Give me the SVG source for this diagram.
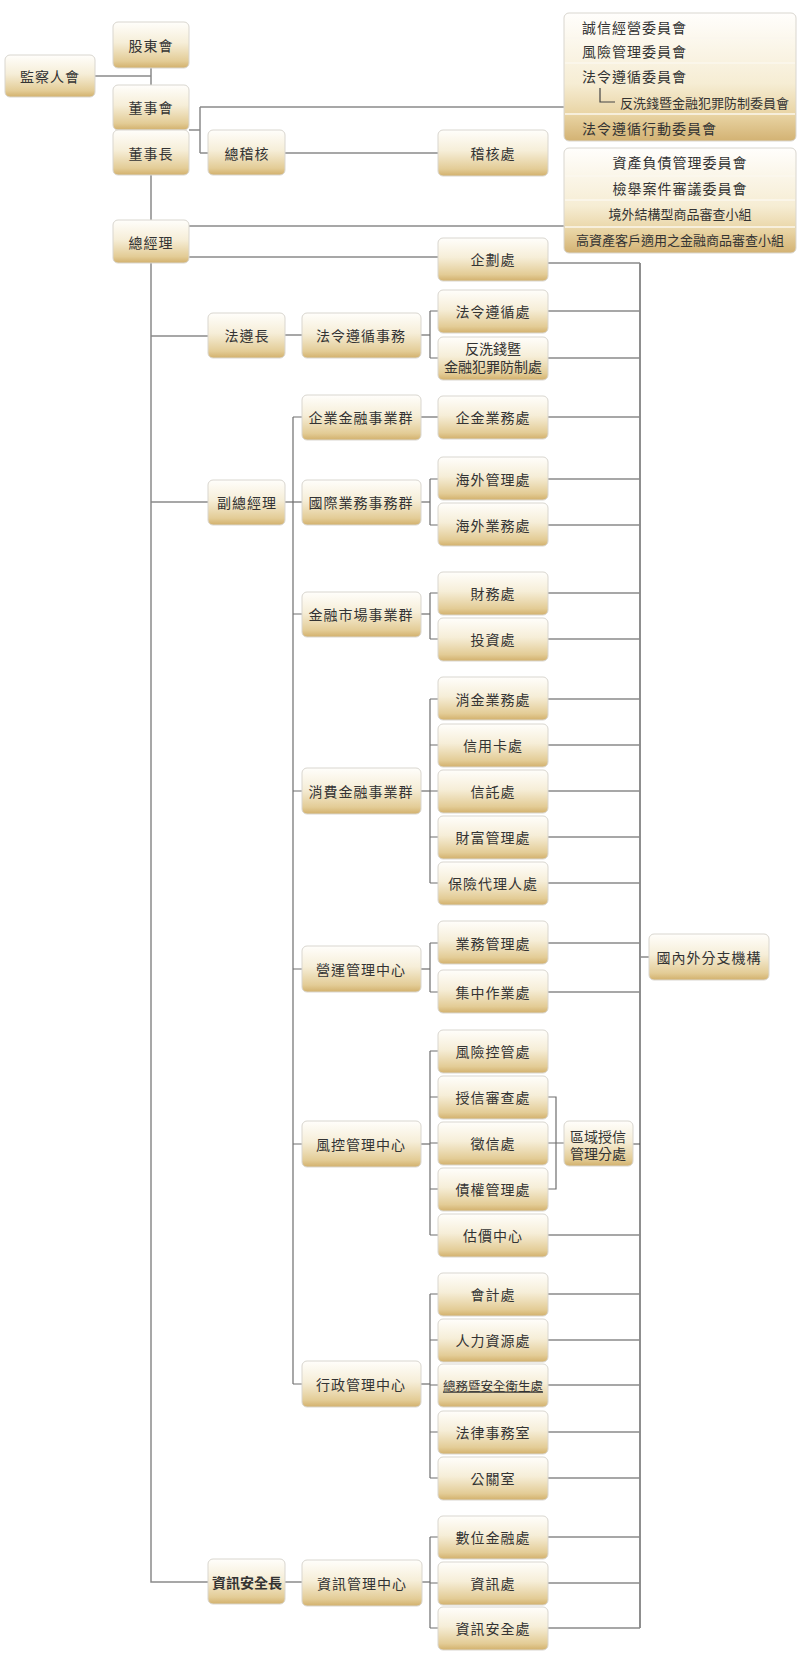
<svg xmlns="http://www.w3.org/2000/svg" width="800" height="1677" viewBox="0 0 800 1677">
<defs>
<linearGradient id="g" x1="0" y1="0" x2="0" y2="1">
<stop offset="0" stop-color="#fffefb"/>
<stop offset="0.45" stop-color="#f6eed8"/>
<stop offset="0.85" stop-color="#e3cc96"/>
<stop offset="1" stop-color="#d2b06c"/>
</linearGradient>
<linearGradient id="gc" x1="0" y1="0" x2="0" y2="1">
<stop offset="0" stop-color="#fffefc"/>
<stop offset="0.55" stop-color="#f6edd4"/>
<stop offset="0.8" stop-color="#e8d3a2"/>
<stop offset="1" stop-color="#d3b273"/>
</linearGradient>
</defs>
<style>
.box{fill:url(#g);stroke:#d9d6cf;stroke-width:1}
.cbox{fill:url(#gc);stroke:#d9d6cf;stroke-width:1}
.t{font-family:"Noto Sans CJK TC","Noto Sans CJK SC",sans-serif;font-size:14px;fill:#333;text-anchor:middle;dominant-baseline:central;letter-spacing:1px}
.ts{font-family:"Noto Sans CJK TC","Noto Sans CJK SC",sans-serif;font-size:13px;fill:#333;dominant-baseline:central}
.tl{font-family:"Noto Sans CJK TC","Noto Sans CJK SC",sans-serif;font-size:14px;fill:#333;dominant-baseline:central;letter-spacing:1px}
.c{fill:none;stroke:#8a8a8a;stroke-width:1.5}
.b{fill:none;stroke:#6e6e6e;stroke-width:1.2}
.bus{fill:none;stroke:#444;stroke-width:1.2}
.div{stroke:#fbf7ee;stroke-width:1.5}
</style>

<g id="connectors">
<path class="c" d="M151 68V85M95 76H151M151 175V220M151 263V1582H208M151 336H208M151 502H208"/>
<path class="c" d="M189 130H200M200 107V153M200 107H564M200 153H208M285 153H438M189 226H564M189 257H438"/>
<path class="c" d="M285 335H302M421 335H430M285 502H302M285 1582H302M422 1582H430"/>
<path class="b" d="M430 311V358M430 311H438M430 358H438"/>
<path class="b" d="M293 417V1384M293 417H302M293 614H302M293 791H302M293 969H302M293 1144H302M293 1384H302"/>
<path class="c" d="M421 417H438M421 502H430M421 614H430M421 791H430M421 969H430M421 1144H430M421 1384H430"/>
<path class="b" d="M430 479V525M430 479H438M430 525H438"/>
<path class="b" d="M430 593V639M430 593H438M430 639H438"/>
<path class="b" d="M430 699V883M430 699H438M430 745H438M430 791H438M430 837H438M430 883H438"/>
<path class="b" d="M430 943V992M430 943H438M430 992H438"/>
<path class="b" d="M430 1051V1235M430 1051H438M430 1097H438M430 1143H438M430 1189H438M430 1235H438"/>
<path class="b" d="M430 1294V1478M430 1294H438M430 1340H438M430 1385H438M430 1432H438M430 1478H438"/>
<path class="b" d="M430 1537V1628M430 1537H438M430 1583H438M430 1628H438"/>
<path class="b" d="M548 1097H556V1189H548M548 1143H564"/>
<path class="c" d="M633 1144H640"/>
<path class="bus" d="M640 263V1628"/>
<path class="c" d="M548 263H640M548 311H640M548 358H640M548 417H640M548 479H640M548 525H640M548 593H640M548 639H640M548 699H640M548 745H640M548 791H640M548 837H640M548 883H640M548 943H640M548 992H640M548 1235H640M548 1294H640M548 1340H640M548 1385H640M548 1432H640M548 1478H640M548 1537H640M548 1583H640M548 1628H640"/>
<path class="c" d="M640 957H649"/>
</g>

<g id="n-shareholders"><rect class="box" x="113" y="22" width="76" height="46" rx="5"/><text class="t" x="151" y="45">股東會</text></g>
<g id="n-supervisors"><rect class="box" x="5" y="55" width="90" height="42" rx="5"/><text class="t" x="50" y="76">監察人會</text></g>
<g id="n-board"><rect class="box" x="113" y="85" width="76" height="45" rx="5"/><text class="t" x="151" y="107">董事會</text></g>
<g id="n-chairman"><rect class="box" x="113" y="130" width="76" height="45" rx="5"/><text class="t" x="151" y="153">董事長</text></g>
<g id="n-chief-auditor"><rect class="box" x="208" y="130" width="77" height="45" rx="5"/><text class="t" x="247" y="153">總稽核</text></g>
<g id="n-audit"><rect class="box" x="438" y="130" width="110" height="46" rx="5"/><text class="t" x="493" y="153">稽核處</text></g>
<g id="n-president"><rect class="box" x="113" y="220" width="76" height="43" rx="5"/><text class="t" x="151" y="242">總經理</text></g>

<g id="n-committees-1">
<rect class="cbox" x="564" y="13" width="232" height="128" rx="5"/>
<line class="div" x1="565" y1="38" x2="795" y2="38"/>
<line class="div" x1="565" y1="63" x2="795" y2="63"/>
<line class="div" x1="565" y1="114" x2="795" y2="114"/>
<text class="tl" x="582" y="27">誠信經營委員會</text>
<text class="tl" x="582" y="51">風險管理委員會</text>
<text class="tl" x="582" y="76">法令遵循委員會</text>
<path d="M600 88V102H615" fill="none" stroke="#444" stroke-width="1.2"/>
<text class="ts" x="620" y="102">反洗錢暨金融犯罪防制委員會</text>
<text class="tl" x="582" y="128">法令遵循行動委員會</text>
</g>

<g id="n-committees-2">
<rect class="cbox" x="564" y="148" width="232" height="105" rx="5"/>
<line class="div" x1="565" y1="176" x2="795" y2="176"/>
<line class="div" x1="565" y1="200" x2="795" y2="200"/>
<line class="div" x1="565" y1="227" x2="795" y2="227"/>
<text class="t" x="680" y="162">資產負債管理委員會</text>
<text class="t" x="680" y="188">檢舉案件審議委員會</text>
<text class="ts" x="680" y="213" text-anchor="middle">境外結構型商品審查小組</text>
<text class="ts" x="680" y="239" text-anchor="middle">高資產客戶適用之金融商品審查小組</text>
</g>

<g id="n-planning"><rect class="box" x="438" y="238" width="110" height="43" rx="5"/><text class="t" x="493" y="259">企劃處</text></g>

<g id="n-cco"><rect class="box" x="208" y="313" width="77" height="45" rx="5"/><text class="t" x="247" y="335">法遵長</text></g>
<g id="n-compliance-affairs"><rect class="box" x="302" y="313" width="119" height="45" rx="5"/><text class="t" x="361" y="335">法令遵循事務</text></g>
<g id="n-compliance"><rect class="box" x="438" y="290" width="110" height="43" rx="5"/><text class="t" x="493" y="311">法令遵循處</text></g>
<g id="n-aml"><rect class="box" x="438" y="337" width="110" height="43" rx="5"/><text class="t" x="493" y="348" style="letter-spacing:0">反洗錢暨</text><text class="t" x="493" y="366" style="letter-spacing:0">金融犯罪防制處</text></g>

<g id="n-evp"><rect class="box" x="208" y="480" width="77" height="45" rx="5"/><text class="t" x="247" y="502">副總經理</text></g>
<g id="n-corporate-group"><rect class="box" x="302" y="395" width="119" height="45" rx="5"/><text class="t" x="361" y="417">企業金融事業群</text></g>
<g id="n-intl-group"><rect class="box" x="302" y="480" width="119" height="45" rx="5"/><text class="t" x="361" y="502">國際業務事務群</text></g>
<g id="n-market-group"><rect class="box" x="302" y="592" width="119" height="45" rx="5"/><text class="t" x="361" y="614">金融市場事業群</text></g>
<g id="n-consumer-group"><rect class="box" x="302" y="768" width="119" height="46" rx="5"/><text class="t" x="361" y="791">消費金融事業群</text></g>
<g id="n-ops-center"><rect class="box" x="302" y="946" width="119" height="46" rx="5"/><text class="t" x="361" y="969">營運管理中心</text></g>
<g id="n-risk-center"><rect class="box" x="302" y="1121" width="119" height="46" rx="5"/><text class="t" x="361" y="1144">風控管理中心</text></g>
<g id="n-admin-center"><rect class="box" x="302" y="1361" width="119" height="46" rx="5"/><text class="t" x="361" y="1384">行政管理中心</text></g>
<g id="n-ciso"><rect class="box" x="208" y="1559" width="77" height="45" rx="5"/><text class="t" x="247" y="1582" style="font-weight:bold;letter-spacing:0">資訊安全長</text></g>
<g id="n-it-center"><rect class="box" x="302" y="1560" width="120" height="46" rx="5"/><text class="t" x="362" y="1583">資訊管理中心</text></g>

<g id="n-corp-biz"><rect class="box" x="438" y="396" width="110" height="43" rx="5"/><text class="t" x="493" y="417">企金業務處</text></g>
<g id="n-overseas-mgmt"><rect class="box" x="438" y="457" width="110" height="43" rx="5"/><text class="t" x="493" y="479">海外管理處</text></g>
<g id="n-overseas-biz"><rect class="box" x="438" y="503" width="110" height="43" rx="5"/><text class="t" x="493" y="525">海外業務處</text></g>
<g id="n-finance"><rect class="box" x="438" y="572" width="110" height="43" rx="5"/><text class="t" x="493" y="593">財務處</text></g>
<g id="n-invest"><rect class="box" x="438" y="618" width="110" height="43" rx="5"/><text class="t" x="493" y="639">投資處</text></g>
<g id="n-consumer-biz"><rect class="box" x="438" y="677" width="110" height="43" rx="5"/><text class="t" x="493" y="699">消金業務處</text></g>
<g id="n-card"><rect class="box" x="438" y="724" width="110" height="43" rx="5"/><text class="t" x="493" y="745">信用卡處</text></g>
<g id="n-trust"><rect class="box" x="438" y="770" width="110" height="43" rx="5"/><text class="t" x="493" y="791">信託處</text></g>
<g id="n-wealth"><rect class="box" x="438" y="816" width="110" height="43" rx="5"/><text class="t" x="493" y="837">財富管理處</text></g>
<g id="n-insurance"><rect class="box" x="438" y="862" width="110" height="43" rx="5"/><text class="t" x="493" y="883">保險代理人處</text></g>
<g id="n-biz-mgmt"><rect class="box" x="438" y="921" width="110" height="43" rx="5"/><text class="t" x="493" y="943">業務管理處</text></g>
<g id="n-central-ops"><rect class="box" x="438" y="970" width="110" height="43" rx="5"/><text class="t" x="493" y="992">集中作業處</text></g>
<g id="n-risk-ctrl"><rect class="box" x="438" y="1030" width="110" height="43" rx="5"/><text class="t" x="493" y="1051">風險控管處</text></g>
<g id="n-credit-review"><rect class="box" x="438" y="1076" width="110" height="43" rx="5"/><text class="t" x="493" y="1097">授信審查處</text></g>
<g id="n-credit-info"><rect class="box" x="438" y="1122" width="110" height="43" rx="5"/><text class="t" x="493" y="1143">徵信處</text></g>
<g id="n-claims"><rect class="box" x="438" y="1168" width="110" height="43" rx="5"/><text class="t" x="493" y="1189">債權管理處</text></g>
<g id="n-appraisal"><rect class="box" x="438" y="1214" width="110" height="43" rx="5"/><text class="t" x="493" y="1235">估價中心</text></g>
<g id="n-regional-credit"><rect class="box" x="564" y="1121" width="69" height="45" rx="5"/><text class="t" x="598" y="1136" style="letter-spacing:0">區域授信</text><text class="t" x="598" y="1153" style="letter-spacing:0">管理分處</text></g>
<g id="n-accounting"><rect class="box" x="438" y="1273" width="110" height="43" rx="5"/><text class="t" x="493" y="1294">會計處</text></g>
<g id="n-hr"><rect class="box" x="438" y="1319" width="110" height="43" rx="5"/><text class="t" x="493" y="1340">人力資源處</text></g>
<g id="n-general-affairs"><rect class="box" x="438" y="1364" width="110" height="43" rx="5"/><text class="t" x="493" y="1385" style="font-size:12.5px;letter-spacing:0;text-decoration:underline">總務暨安全衛生處</text></g>
<g id="n-legal"><rect class="box" x="438" y="1411" width="110" height="43" rx="5"/><text class="t" x="493" y="1432">法律事務室</text></g>
<g id="n-pr"><rect class="box" x="438" y="1457" width="110" height="43" rx="5"/><text class="t" x="493" y="1478">公關室</text></g>
<g id="n-digital"><rect class="box" x="438" y="1516" width="110" height="43" rx="5"/><text class="t" x="493" y="1537">數位金融處</text></g>
<g id="n-it"><rect class="box" x="438" y="1562" width="110" height="43" rx="5"/><text class="t" x="493" y="1583">資訊處</text></g>
<g id="n-infosec"><rect class="box" x="438" y="1607" width="110" height="43" rx="5"/><text class="t" x="493" y="1628">資訊安全處</text></g>
<g id="n-branches"><rect class="box" x="649" y="934" width="120" height="46" rx="5"/><text class="t" x="709" y="957">國內外分支機構</text></g>
</svg>
